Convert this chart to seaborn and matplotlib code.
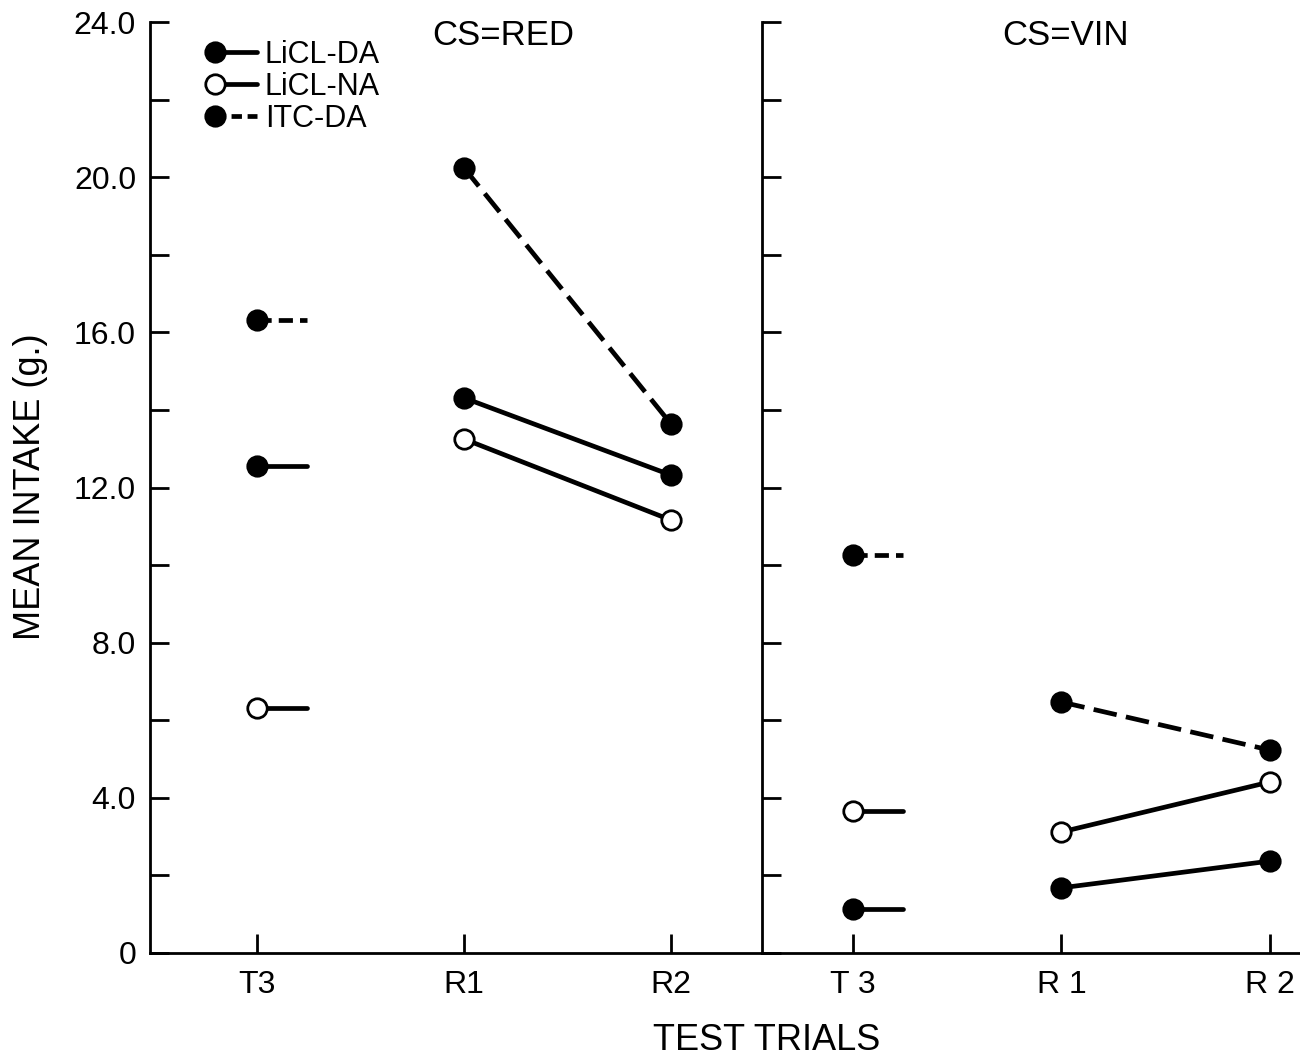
import numpy as np
import pandas as pd
import matplotlib
matplotlib.use("Agg")
import matplotlib.pyplot as plt
import seaborn as sns
from matplotlib.lines import Line2D
from matplotlib.legend_handler import HandlerLine2D

# ---------------- data ----------------
trials_red = ["T3", "R1", "R2"]
trials_vin = ["T 3", "R 1", "R 2"]
groups = ["LiCL-DA", "LiCL-NA", "ITC-DA"]

red_licl_da = [12.55, 14.31, 12.32]
red_licl_na = [6.32, 13.25, 11.16]
red_itc_da = [16.32, 20.24, 13.64]

vin_licl_da = [1.13, 1.68, 2.37]
vin_licl_na = [3.66, 3.12, 4.41]
vin_itc_da = [10.26, 6.47, 5.23]

y_major = [0, 4, 8, 12, 16, 20, 24]
y_major_labels = ["0", "4.0", "8.0", "12.0", "16.0", "20.0", "24.0"]
y_minor = [2, 6, 10, 14, 18, 22]

panel_titles = ["CS=RED", "CS=VIN"]
x_label = "TEST TRIALS"
y_label = "MEAN INTAKE (g.)"

# ---------------- style ----------------
sns.set_theme(style="white")
plt.rcParams["font.family"] = ["Liberation Sans", "DejaVu Sans"]
plt.rcParams["text.color"] = "black"
plt.rcParams["axes.labelcolor"] = "black"
plt.rcParams["xtick.color"] = "black"
plt.rcParams["ytick.color"] = "black"

W, H = 1300, 1058
fig = plt.figure(figsize=(W / 100, H / 100), dpi=100)
axL = fig.add_axes([150 / W, (H - 953) / H, 612 / W, 931 / H])
axR = fig.add_axes([762 / W, (H - 953) / H, 538 / W, 931 / H])

LW = 3.4
MS = 14
STUB = 0.24
DASH_MAIN = (0, (5.0, 2.0))
DASH_STUB = (0, (3.0, 1.5))

group_style = {
    "LiCL-DA": dict(mfc="black", solid=True),
    "LiCL-NA": dict(mfc="white", solid=True),
    "ITC-DA": dict(mfc="black", solid=False),
}

panels = [
    (axL, trials_red, {"LiCL-DA": red_licl_da, "LiCL-NA": red_licl_na, "ITC-DA": red_itc_da}, (-0.517, 2.44)),
    (axR, trials_vin, {"LiCL-DA": vin_licl_da, "LiCL-NA": vin_licl_na, "ITC-DA": vin_itc_da}, (-0.436, 2.144)),
]

for ax, trials, series, xlim in panels:
    for g in groups:
        vals = series[g]
        st = group_style[g]
        common = dict(color="black", lw=LW, marker="o", markersize=MS,
                      markerfacecolor=st["mfc"], markeredgecolor="black",
                      markeredgewidth=2.0, errorbar=None, ax=ax, legend=False)
        # T3 point with a short stub (line interrupted)
        df_t3 = pd.DataFrame({"pos": [0.0, 0.0 + STUB], "val": [vals[0], vals[0]]})
        sns.lineplot(data=df_t3, x="pos", y="val", markevery=[0],
                     linestyle="-" if st["solid"] else DASH_STUB, **common)
        # R1 -> R2 segment
        df_r = pd.DataFrame({"pos": [1.0, 2.0], "val": vals[1:]})
        sns.lineplot(data=df_r, x="pos", y="val",
                     linestyle="-" if st["solid"] else DASH_MAIN, **common)

    ax.set_xlim(*xlim)
    ax.set_ylim(0, 24)
    ax.set_xticks([0, 1, 2])
    ax.set_xticklabels(trials)
    ax.set_yticks(y_major)
    ax.set_yticks(y_minor, minor=True)
    ax.set_xlabel("")
    ax.set_ylabel("")
    for side in ["top", "right"]:
        ax.spines[side].set_visible(False)
    for side in ["left", "bottom"]:
        ax.spines[side].set_visible(True)
        ax.spines[side].set_linewidth(2.0)
        ax.spines[side].set_color("black")
    ax.tick_params(axis="y", which="both", direction="in", length=14, width=2,
                   left=True, color="black", labelcolor="black", pad=10, labelsize=23)
    ax.tick_params(axis="x", which="major", direction="in", length=14, width=2,
                   bottom=True, color="black", labelcolor="black", pad=12, labelsize=23)
    ax.set_facecolor("none")

axL.set_yticklabels(y_major_labels)
axR.tick_params(axis="y", labelleft=False)

axL.text(0.578, 0.986, panel_titles[0], transform=axL.transAxes,
         ha="center", va="center", fontsize=25)
axR.text(0.565, 0.986, panel_titles[1], transform=axR.transAxes,
         ha="center", va="center", fontsize=25)

fig.text(767 / W, 1 - 1040 / H, x_label, ha="center", va="center", fontsize=26)
fig.text(31 / W, 1 - 487 / H, y_label, ha="center", va="center",
         rotation=90, fontsize=26)


# ---------------- legend ----------------
class LeftMarkerHandler(HandlerLine2D):
    """Legend handle with the marker at the left end of the line."""
    def create_artists(self, *args, **kwargs):
        artists = super().create_artists(*args, **kwargs)
        for a in artists:
            a.set_markevery([0])
        return artists


proxies = []
for g in groups:
    st = group_style[g]
    proxies.append(Line2D([], [], color="black", lw=LW, marker="o", markersize=MS,
                          markerfacecolor=st["mfc"], markeredgecolor="black",
                          markeredgewidth=2.0,
                          linestyle="-" if st["solid"] else (0, (2.2, 1.2))))

FS_LEG = 22
leg = axL.legend(proxies, groups, loc="upper left",
                 bbox_to_anchor=(215 / W, 1 - 40 / H), bbox_transform=fig.transFigure,
                 frameon=False, fontsize=FS_LEG, borderpad=0, borderaxespad=0,
                 handlelength=42 / (FS_LEG * 100 / 72), handletextpad=0.25,
                 labelspacing=0.06, numpoints=1,
                 handler_map={Line2D: LeftMarkerHandler(numpoints=1)})

fig.savefig("out.png", dpi=100)
